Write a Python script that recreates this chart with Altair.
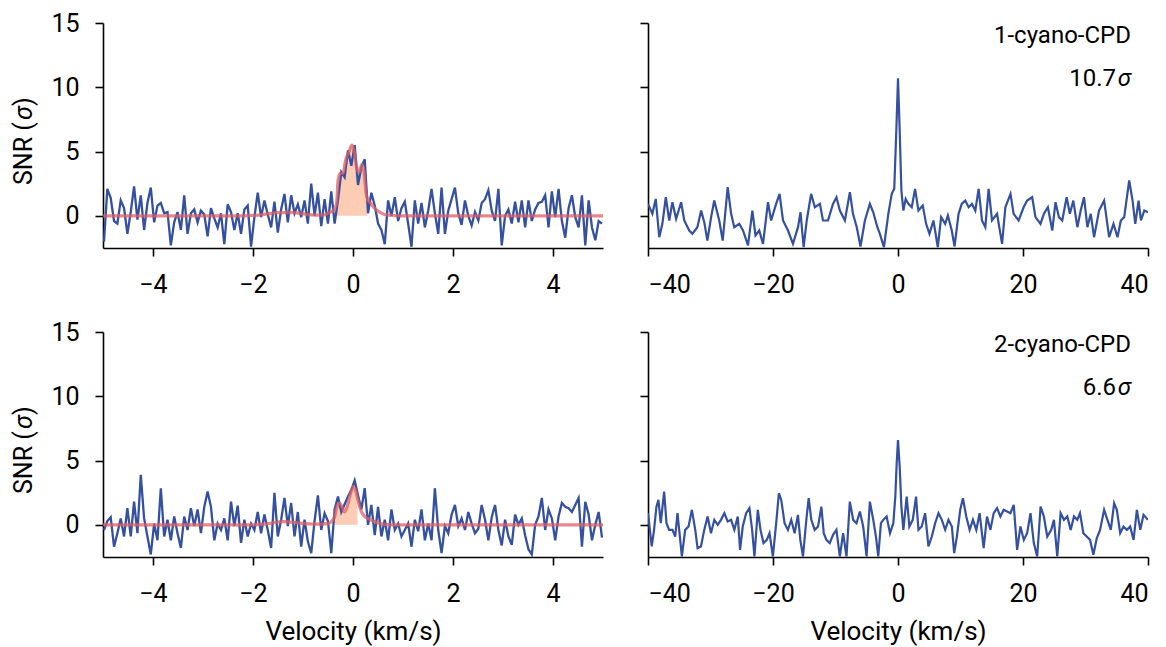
import altair as alt
import numpy as np
import pandas as pd

# ---------------- data ----------------
# left panels: SNR per channel, channels evenly spread over -5..5 km/s
tl_snr = [-2.0, 2.1, 1.4, -0.4, -0.6, 1.2, 0.6, -1.4, 0.3, 2.3,
          -0.3, 1.6, -1.1, 1.0, 2.2, -0.5, 0.8, 1.0, 0.2, 0.3,
          -2.3, -0.5, 0.3, -1.1, 1.6, -1.4, 0.2, 0.5, -0.5, 0.4,
          0.1, -1.6, 0.6, -0.2, -0.9, 0.2, -2.2, 0.9, 0.3, -1.1,
          0.2, -1.4, 0.5, 0.8, -2.4, -0.1, 1.8, -0.1, 1.2, 0.1,
          -0.9, 1.1, -1.3, 0.5, 1.7, -0.5, 1.6, 0.2, 0.9, -0.1,
          1.2, -0.6, 2.5, 0.0, 1.8, -0.8, 1.3, -0.6, 1.9, -0.6,
          1.2, 3.4, 3.0, 5.1, 3.9, 5.5, 2.4, 3.8, 4.4, 0.2,
          1.8, 0.8, -0.6, -1.1, -2.2, 1.2, 0.0, 1.45, -0.4, 0.6,
          1.1, -0.6, -2.4, 1.2, -0.6, 1.0, -0.9, 0.4, 2.1, 0.2,
          -1.4, 2.2, -1.4, 0.4, 1.3, 2.2, 0.2, -0.7, 1.2, 0.0,
          -0.75, 0.3, -0.36, 1.0, 1.3, 2.0, 0.4, -0.4, 2.1, -2.3,
          0.0, 0.5, -0.6, 1.1, -0.5, 1.2, -0.9, 1.2, -0.4, 0.5,
          1.0, 1.1, 1.6, -0.9, 1.9, -0.1, 2.1, -0.4, -1.7, 0.6,
          1.6, -0.1, -0.9, 1.6, -2.3, 1.2, -0.9, -1.9, -0.4, -0.6]

bl_snr = [-0.4, 0.3, 0.6, -1.7, -0.65, 0.5, -0.9, 1.3, -0.9, 1.8,
          -0.65, 3.9, 0.5, -0.9, -2.3, 0.1, -1.2, 2.85, -0.9, 0.4,
          -1.2, 0.65, -0.65, -1.8, 0.65, -0.4, 1.3, -0.1, 1.2, -0.65,
          1.4, 2.6, 1.4, -1.2, 0.1, -0.4, 0.5, -1.2, 1.8, -0.1,
          1.5, -1.4, 0.4, -0.9, 0.1, -0.4, 1.0, -0.65, 0.8, -0.4,
          -1.8, 2.5, -0.9, 0.4, 2.1, -0.1, 1.7, -0.9, 1.0, -1.7,
          0.4, -1.3, -2.2, 0.3, 2.3, -0.4, 0.9, 0.3, -2.2, 1.2,
          2.2, 1.0, 1.6, 2.2, 2.7, 3.45, 2.3, 1.2, 2.85, 0.0,
          1.55, -0.8, 1.4, -0.9, 0.4, -1.2, 1.2, -0.4, 0.1, -0.9,
          -0.4, 0.1, -1.7, 0.4, -0.5, 1.2, -1.2, 0.1, -1.2, 2.85,
          -0.4, -2.2, -0.1, -0.65, 0.8, 1.55, -0.1, 0.5, -0.4, 1.0,
          0.1, -0.65, -0.3, 1.55, 0.4, -1.2, 0.6, 1.55, -0.4, -1.6,
          0.4, -0.9, -1.55, 0.8, 0.0, 0.5, -0.8, -1.9, -2.3, 0.0,
          0.65, 2.1, -0.4, 1.2, 0.5, -1.2, 0.65, 1.7, 1.4, 1.3,
          1.0, 1.55, 2.1, -1.7, 1.8, 0.8, -1.2, 0.0, 1.0, -1.0]

# fitted model (left panels)
tl_model_vel = [-5.0, -2.2, -1.8, -1.5, -1.2, -0.9, -0.6, -0.45, -0.4, -0.33,
                -0.3, -0.26, -0.2, -0.15, -0.08, -0.02, 0.03, 0.07, 0.12, 0.18,
                0.22, 0.26, 0.29, 0.35, 0.43, 0.55, 0.7, 1.0, 5.0]
tl_model_snr = [0.0, 0.0, 0.1, 0.25, 0.25, 0.1, 0.05, 0.3, 0.4, 0.9,
                2.7, 3.3, 3.3, 4.3, 5.0, 5.5, 4.9, 3.8, 3.4, 4.0,
                3.4, 1.8, 1.3, 1.0, 0.6, 0.25, 0.05, 0.0, 0.0]
tl_fill = [-0.33, 0.29]

bl_model_vel = [-5.0, -2.0, -1.7, -1.4, -1.1, -0.8, -0.5, -0.42, -0.37, -0.32,
                -0.28, -0.23, -0.17, -0.11, -0.05, 0.0, 0.05, 0.09, 0.15, 0.22,
                0.3, 0.4, 0.55, 0.8, 5.0]
bl_model_snr = [0.0, 0.0, 0.1, 0.25, 0.15, 0.05, 0.1, 0.3, 0.6, 1.4,
                1.7, 1.5, 1.0, 1.5, 2.4, 3.0, 2.7, 2.1, 1.2, 0.7,
                0.5, 0.3, 0.1, 0.0, 0.0]
bl_fill = [-0.37, 0.09]

# right panels: velocity / SNR pairs
tr_vel = [-40.0, -39.3, -38.76, -38.2, -37.7, -37.15, -36.6, -36.1, -35.5, -34.7,
          -34.2, -33.4, -32.9, -32.1, -31.5, -31.0, -30.5, -29.9, -29.4, -28.6,
          -28.05, -27.25, -26.7, -26.2, -25.4, -24.8, -24.0, -23.3, -22.8, -22.2,
          -21.6, -20.8, -20.3, -19.5, -18.95, -18.4, -17.6, -16.8, -16.0, -15.6,
          -15.1, -14.6, -13.9, -13.3, -12.5, -12.0, -11.2, -10.4, -9.85, -9.3,
          -8.5, -7.7, -7.2, -6.6, -6.0, -5.3, -4.5, -3.96, -3.3, -2.9,
          -2.25, -1.55, -1.0, -0.6, -0.27, 0.0, 0.27, 0.54, 0.86, 1.23,
          1.66, 2.2, 2.73, 3.27, 3.96, 4.5, 5.03, 5.67, 6.37, 6.9,
          7.55, 7.98, 8.6, 9.05, 9.69, 10.2, 10.76, 11.3, 11.83, 12.37,
          12.9, 13.44, 13.97, 14.5, 15.04, 15.85, 16.65, 17.18, 18.0, 18.5,
          19.3, 20.1, 20.66, 21.47, 22.0, 22.8, 23.34, 23.98, 24.68, 25.2,
          25.75, 26.28, 26.98, 27.5, 28.05, 28.7, 29.23, 29.76, 30.3, 30.84,
          31.37, 32.17, 32.98, 33.78, 34.48, 35.12, 35.65, 36.19, 36.99, 37.53,
          37.96, 38.49, 38.87, 39.4, 40.0]
tr_snr = [0.93, 0.16, 1.32, -1.66, -0.62, 1.45, -0.36, 1.06, -0.23, 1.06,
          -0.36, -1.14, -1.4, -0.88, 0.41, -0.49, -1.92, -0.1, 1.19, -0.36,
          -1.92, 2.23, 0.16, -0.88, -0.62, -1.14, -2.3, 0.41, -1.53, -1.14,
          -2.18, 1.06, -0.36, 0.93, 1.71, -0.36, -1.14, -2.18, -0.88, 0.28,
          -2.44, -0.36, 1.71, 0.67, 0.93, -0.36, -0.36, 0.93, 1.45, 0.41,
          -0.36, 1.84, 0.16, -0.88, -2.38, -0.36, 0.93, 0.28, -0.88, -1.4,
          -2.44, 0.16, 1.71, 2.1, 6.63, 10.7, 6.63, 1.97, 0.41, 1.32,
          0.93, 0.67, 2.1, 0.41, 0.8, -0.62, -1.4, -0.36, -2.44, -0.1,
          -0.62, 0.03, -1.14, -2.38, 0.16, 0.93, 1.19, 0.67, 0.93, 0.41,
          2.1, -0.36, -0.88, 2.1, -0.36, 0.16, -2.18, 0.67, 1.71, 0.16,
          -0.36, 0.67, 1.19, 1.45, -0.1, -0.62, 0.16, 0.67, -1.14, 1.06,
          -0.1, -0.36, 1.45, 0.16, 1.19, -0.88, 0.41, 1.45, -0.88, 0.16,
          -1.66, 0.41, 1.19, -1.66, -0.62, -1.66, -0.36, -0.1, 2.75, 1.19,
          -0.62, 1.19, -0.36, 0.41, 0.28]

br_vel = [-40.0, -39.4, -39.03, -38.65, -38.33, -37.96, -37.42, -37.04, -36.62, -36.08,
          -35.65, -35.28, -35.01, -34.58, -34.05, -33.51, -32.98, -32.44, -32.07, -31.53,
          -31.0, -30.46, -29.93, -29.39, -28.85, -28.32, -27.78, -27.25, -26.71, -26.18,
          -25.64, -25.27, -24.84, -24.3, -23.77, -23.34, -22.97, -22.43, -22.0, -21.52,
          -20.99, -20.56, -20.02, -19.49, -19.06, -18.68, -18.15, -17.61, -17.08, -16.54,
          -16.01, -15.63, -15.2, -14.67, -14.29, -13.87, -13.33, -12.79, -12.26, -11.88,
          -11.46, -10.92, -10.39, -9.85, -9.31, -8.78, -8.24, -7.71, -7.17, -6.64,
          -6.1, -5.57, -5.03, -4.5, -3.96, -3.53, -3.16, -2.73, -2.36, -1.82,
          -1.28, -0.75, -0.43, -0.21, 0.0, 0.27, 0.54, 0.86, 1.39, 1.82,
          2.36, 2.89, 3.27, 3.8, 4.34, 4.87, 5.41, 5.94, 6.48, 7.01,
          7.55, 8.08, 8.62, 8.99, 9.42, 9.96, 10.39, 10.92, 11.46, 11.99,
          12.53, 13.06, 13.7, 14.24, 14.78, 15.31, 15.85, 16.38, 16.92, 17.45,
          17.99, 18.52, 19.06, 19.59, 20.13, 20.66, 21.2, 21.73, 22.27, 22.81,
          23.34, 23.88, 24.52, 24.95, 25.48, 26.02, 26.55, 27.09, 27.62, 28.16,
          28.69, 29.12, 29.66, 30.19, 30.73, 31.26, 31.8, 32.33, 32.98, 33.51,
          34.05, 34.58, 35.01, 35.55, 36.08, 36.62, 37.15, 37.69, 38.22, 38.76,
          39.29, 40.0]
br_snr = [0.91, -1.68, -0.39, 1.42, 1.94, 0.13, 2.59, 0.13, -0.39, -0.39,
          -0.91, 0.91, -0.39, -2.46, -0.39, -0.13, 1.17, -0.39, -1.81, -1.68,
          -0.39, 0.65, -0.65, 0.39, 0.0, 0.39, 0.91, 0.26, 0.39, -0.39,
          0.65, -1.94, -0.13, 0.91, 1.3, -0.39, -2.46, 1.17, -0.39, -1.42,
          -1.17, -0.65, -2.46, 0.13, 2.46, 1.94, 0.13, -0.39, 0.39, -0.65,
          0.78, -1.17, -2.46, 0.39, 2.07, 0.39, -0.39, -0.13, 1.42, -0.65,
          -1.17, -1.42, -0.78, -0.39, -2.46, -0.65, -2.46, 1.81, 0.39, 0.13,
          1.04, -0.13, -2.46, 1.81, 0.39, -0.91, -2.46, 0.13, 0.39, 0.65,
          -0.65, 0.13, 2.2, 4.8, 6.6, 4.53, 1.42, -0.39, 2.2, -0.13,
          0.39, 2.2, -0.39, -0.13, 0.91, -1.68, -0.91, 0.13, 0.91, 0.39,
          -0.39, 0.39, -0.13, -2.2, -0.91, 1.17, 2.07, 0.65, -0.39, 0.39,
          -0.39, 0.91, -1.81, 0.65, -0.39, 0.91, 1.3, 0.65, 1.17, 1.04,
          0.91, 1.55, -1.94, -0.13, -1.17, -0.65, 0.91, -1.42, -2.46, 1.42,
          0.65, -0.91, -0.39, 0.39, -2.46, 0.91, 0.39, 0.65, -0.39, 0.65,
          0.39, 0.91, -0.65, -0.91, -1.17, -2.33, -1.04, -0.39, 1.17, 0.39,
          -0.39, 1.68, 1.17, -0.65, -0.13, -0.39, -0.13, -1.17, 1.17, -0.39,
          0.78, 0.39]

molecules = ["1-cyano-CPD", "2-cyano-CPD"]
significance = ["10.7", "6.6"]
ytitle_parts = ["SNR (", "σ", ")"]

# ---------------- style ----------------
BLUE = "#34509f"
RED = "#dc5f67"
PEACH = "#fdccb4"
W, H = 500, 225
YDOM = [-2.5, 15]
FONT = "Roboto"


def yenc(show_labels):
    kw = dict(values=[0, 5, 10, 15], title=None)
    if not show_labels:
        kw["labels"] = False
    return alt.Y("snr:Q", scale=alt.Scale(domain=YDOM, nice=False, zero=False),
                 axis=alt.Axis(**kw))


def xenc(domain, ticks, bottom):
    kw = dict(values=ticks)
    kw["title"] = "Velocity (km/s)" if bottom else None
    return alt.X("vel:Q", scale=alt.Scale(domain=domain, nice=False, zero=False),
                 axis=alt.Axis(**kw))


def y_title():
    # rotated y-axis title built from pieces so that sigma can be italic
    t = pd.DataFrame({"a": [ytitle_parts[0]], "b": [ytitle_parts[1]],
                      "c": [ytitle_parts[2]]})
    common = dict(angle=270, align="left", baseline="alphabetic", fontSize=25,
                  font=FONT, color="black")
    p1 = alt.Chart(t).mark_text(**common).encode(
        x=alt.value(-71), y=alt.value(162), text="a:N")
    p2 = alt.Chart(t).mark_text(fontStyle="italic", **common).encode(
        x=alt.value(-71), y=alt.value(97), text="b:N")
    p3 = alt.Chart(t).mark_text(**common).encode(
        x=alt.value(-71), y=alt.value(83), text="c:N")
    return [p1, p2, p3]


def left_panel(snr, mvel, msnr, frange, bottom):
    vel = np.linspace(-4.98, 4.98, len(snr))
    df = pd.DataFrame({"vel": vel, "snr": snr})
    mdf = pd.DataFrame({"vel": mvel, "snr": msnr})
    x = xenc([-5, 5], [-4, -2, 0, 2, 4], bottom)
    y = yenc(True)
    area = alt.Chart(mdf).transform_filter(
        (alt.datum.vel >= frange[0]) & (alt.datum.vel <= frange[1])
    ).mark_area(color=PEACH, opacity=1, interpolate="monotone").encode(
        x=x, y=y, y2=alt.datum(0))
    line = alt.Chart(df).mark_line(color=BLUE, strokeWidth=2.3,
                                   clip=True).encode(x=x, y=y)
    model = alt.Chart(mdf).mark_line(color=RED, strokeWidth=3.2, opacity=0.75,
                                     interpolate="monotone").encode(x=x, y=y)
    return alt.layer(area, line, model, *y_title()).properties(width=W, height=H)


def right_panel(vel, snr, idx, bottom):
    df = pd.DataFrame({"vel": vel, "snr": snr})
    x = xenc([-40, 40], [-40, -20, 0, 20, 40], bottom)
    y = yenc(False)
    line = alt.Chart(df).mark_line(color=BLUE, strokeWidth=2.2,
                                   clip=True).encode(x=x, y=y)
    lab = pd.DataFrame({"name": [molecules[idx]], "sig": [significance[idx]],
                        "sym": ["σ"]})
    common = dict(baseline="middle", fontSize=24, font=FONT, color="black")
    t1 = alt.Chart(lab).mark_text(align="right", **common).encode(
        x=alt.value(483), y=alt.value(13), text="name:N")
    t2 = alt.Chart(lab).mark_text(align="right", **common).encode(
        x=alt.value(468), y=alt.value(56), text="sig:N")
    t3 = alt.Chart(lab).mark_text(align="right", fontStyle="italic", **common).encode(
        x=alt.value(483), y=alt.value(56), text="sym:N")
    return alt.layer(line, t1, t2, t3).properties(width=W, height=H)


tl = left_panel(tl_snr, tl_model_vel, tl_model_snr, tl_fill, False)
tr = right_panel(tr_vel, tr_snr, 0, False)
bl = left_panel(bl_snr, bl_model_vel, bl_model_snr, bl_fill, True)
br = right_panel(br_vel, br_snr, 1, True)

chart = alt.vconcat(
    alt.hconcat(tl, tr, spacing=29),
    alt.hconcat(bl, br, spacing=29),
    spacing=23,
).properties(
    padding={"left": 4, "top": 3, "right": 5, "bottom": 3}
).configure(
    font=FONT, background="white"
).configure_view(
    stroke=None
).configure_axis(
    labelFont=FONT, titleFont=FONT, labelFontSize=25, titleFontSize=26,
    labelColor="black", titleColor="black", titleFontWeight="normal",
    domainColor="black", tickColor="black", domainWidth=1.6, tickWidth=1.6,
    tickSize=8, labelPadding=16, titlePadding=12, grid=False,
)

chart.save("out.html", embed_options={"renderer": "svg", "actions": False})
